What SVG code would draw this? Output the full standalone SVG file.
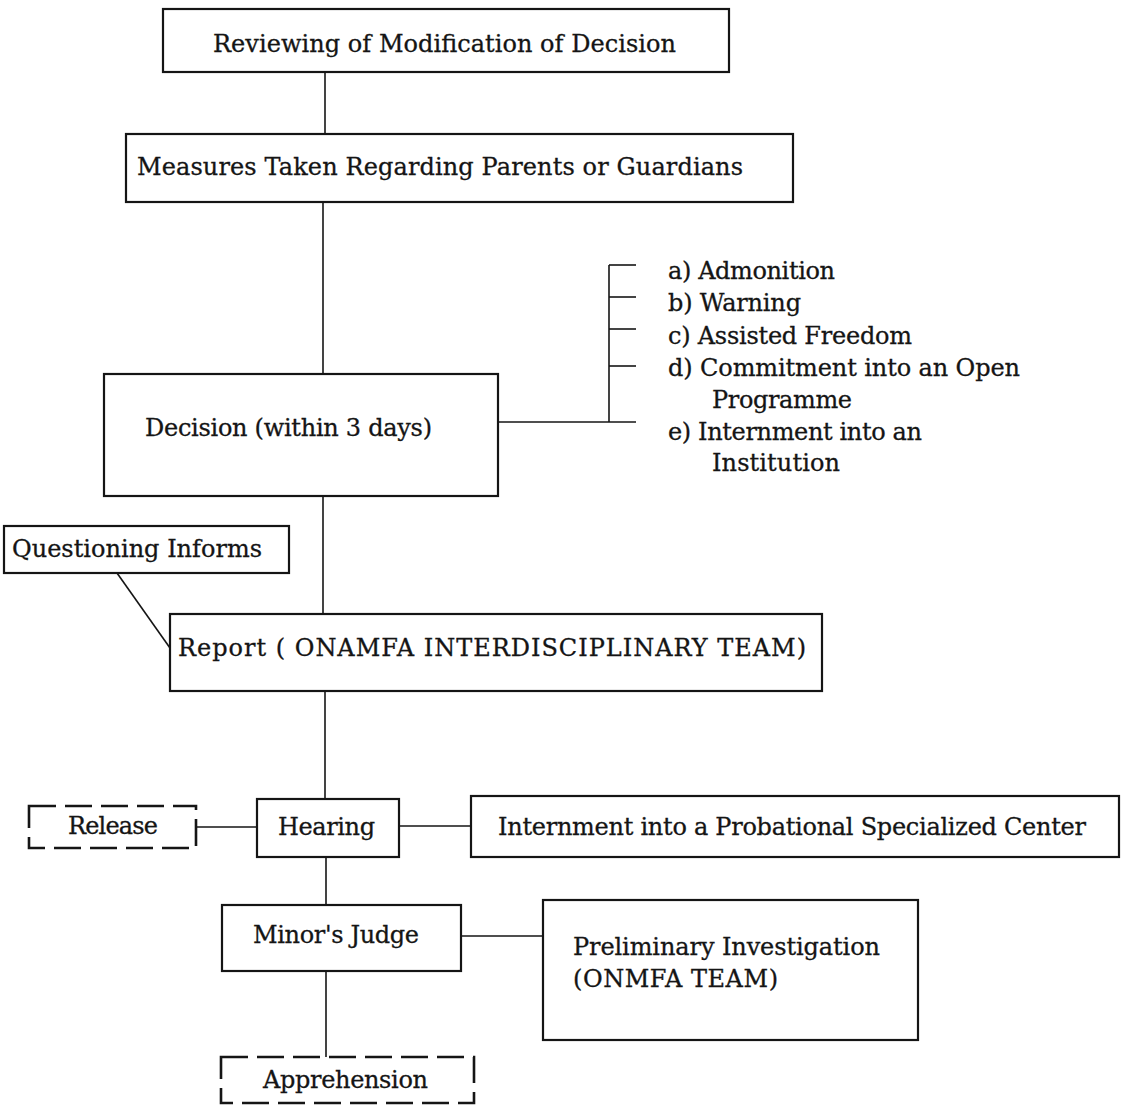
<svg xmlns="http://www.w3.org/2000/svg" width="1121" height="1105" viewBox="0 0 1121 1105">
  <style>
    .box { fill: #ffffff; stroke: #151515; stroke-width: 2.2; }
    .dash { fill: #ffffff; stroke: #151515; stroke-width: 2.6; stroke-dasharray: 27 9; }
    .wire { fill: none; stroke: #151515; stroke-width: 1.6; }
    .lbl { font-family: "DejaVu Serif", "Liberation Serif", serif; font-size: 24px; fill: #151515; stroke: #151515; stroke-width: 0.3; }
  </style>
  <rect x="0" y="0" width="1121" height="1105" fill="#ffffff"/>

  <!-- connectors -->
  <g id="connectors">
    <line class="wire" x1="325" y1="72" x2="325" y2="134"/>
    <line class="wire" x1="323" y1="202" x2="323" y2="374"/>
    <line class="wire" x1="323" y1="496" x2="323" y2="614"/>
    <line class="wire" x1="325" y1="691" x2="325" y2="799"/>
    <line class="wire" x1="326" y1="857" x2="326" y2="905"/>
    <line class="wire" x1="326" y1="971" x2="326" y2="1057"/>
    <!-- decision options bracket -->
    <line class="wire" x1="498" y1="422" x2="636" y2="422"/>
    <line class="wire" x1="609" y1="265" x2="609" y2="422"/>
    <line class="wire" x1="609" y1="265" x2="636" y2="265"/>
    <line class="wire" x1="609" y1="297" x2="636" y2="297"/>
    <line class="wire" x1="609" y1="329" x2="636" y2="329"/>
    <line class="wire" x1="609" y1="366" x2="636" y2="366"/>
    <!-- side links -->
    <line class="wire" x1="117" y1="573" x2="170" y2="648" stroke-width="2.2"/>
    <line class="wire" x1="196" y1="827" x2="257" y2="827"/>
    <line class="wire" x1="399" y1="826" x2="471" y2="826"/>
    <line class="wire" x1="461" y1="936" x2="543" y2="936"/>
  </g>

  <g id="reviewing">
    <rect class="box" x="163" y="9" width="566" height="63"/>
    <text class="lbl" x="213" y="52" textLength="463">Reviewing of Modification of Decision</text>
  </g>

  <g id="measures">
    <rect class="box" x="126" y="134" width="667" height="68"/>
    <text class="lbl" x="137" y="175" textLength="606">Measures Taken Regarding Parents or Guardians</text>
  </g>

  <g id="decision">
    <rect class="box" x="104" y="374" width="394" height="122"/>
    <text class="lbl" x="145" y="436" textLength="287">Decision (within 3 days)</text>
  </g>

  <g id="options">
    <text class="lbl" x="668" y="279" textLength="167">a) Admonition</text>
    <text class="lbl" x="668" y="311" textLength="133">b) Warning</text>
    <text class="lbl" x="668" y="344" textLength="244">c) Assisted Freedom</text>
    <text class="lbl" x="668" y="376" textLength="352">d) Commitment into an Open</text>
    <text class="lbl" x="712" y="408" textLength="140">Programme</text>
    <text class="lbl" x="668" y="440" textLength="254">e) Internment into an</text>
    <text class="lbl" x="712" y="471" textLength="128">Institution</text>
  </g>

  <g id="questioning">
    <rect class="box" x="4" y="526" width="285" height="47"/>
    <text class="lbl" x="12" y="557" textLength="250">Questioning Informs</text>
  </g>

  <g id="report">
    <rect class="box" x="170" y="614" width="652" height="77"/>
    <text class="lbl" x="178" y="656" textLength="628">Report ( ONAMFA INTERDISCIPLINARY TEAM)</text>
  </g>

  <g id="release">
    <rect class="dash" x="29" y="806" width="167" height="42"/>
    <text class="lbl" x="68" y="834" textLength="90">Release</text>
  </g>

  <g id="hearing">
    <rect class="box" x="257" y="799" width="142" height="58"/>
    <text class="lbl" x="278" y="835" textLength="97">Hearing</text>
  </g>

  <g id="internment">
    <rect class="box" x="471" y="796" width="648" height="61"/>
    <text class="lbl" x="498" y="835" textLength="588">Internment into a Probational Specialized Center</text>
  </g>

  <g id="minors-judge">
    <rect class="box" x="222" y="905" width="239" height="66"/>
    <text class="lbl" x="253" y="943" textLength="166">Minor's Judge</text>
  </g>

  <g id="preliminary">
    <rect class="box" x="543" y="900" width="375" height="140"/>
    <text class="lbl" x="573" y="955" textLength="307">Preliminary Investigation</text>
    <text class="lbl" x="573" y="987" textLength="205">(ONMFA TEAM)</text>
  </g>

  <g id="apprehension">
    <rect class="dash" x="221" y="1057" width="253" height="46"/>
    <text class="lbl" x="263" y="1088" textLength="165">Apprehension</text>
  </g>
</svg>
